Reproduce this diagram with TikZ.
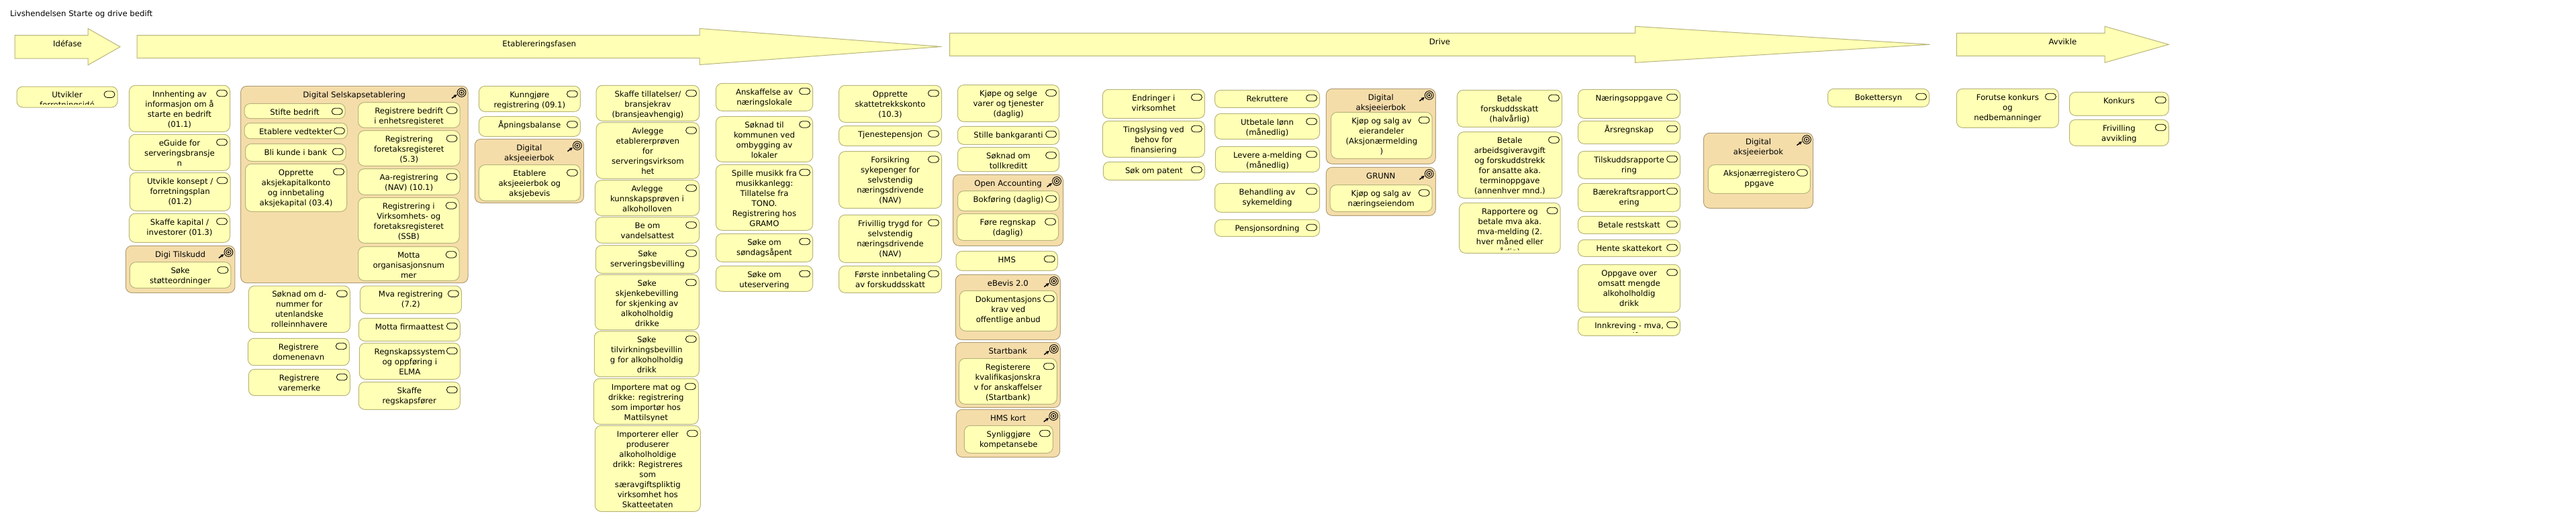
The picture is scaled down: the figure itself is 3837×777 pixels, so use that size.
\documentclass[tikz,border=0pt]{standalone}
\usepackage{fontspec}
\setmainfont{DejaVu Sans}
\usetikzlibrary{calc,shapes.misc,arrows.meta}
\definecolor{actfill}{HTML}{FFFFB5}
\definecolor{actline}{HTML}{B8B57C}
\definecolor{capfill}{HTML}{F5DDAA}
\definecolor{capline}{HTML}{B09F78}
\tikzset{
  acttext/.style={font=\fontsize{11.7}{15}\selectfont, align=center, inner sep=0pt, anchor=north, text=black},
  actnode/.style={draw=actline, fill=actfill, line width=1.00pt, rounded corners=9pt, inner sep=0pt, outer sep=0pt},
  capnode/.style={draw=capline, fill=capfill, line width=1.00pt, rounded corners=9pt, inner sep=0pt, outer sep=0pt},
  pillicon/.style={draw=black, line width=0.80pt, rounded rectangle, minimum width=16pt, minimum height=9.5pt, inner sep=0pt},
  phaseline/.style={draw=actline, fill=actfill, line width=1.00pt}
}
% #1 style, #2 name, #3 x1, #4 y1, #5 x2, #6 y2, #7 text
\newcommand{\plainbox}[7]{
  \pgfmathsetmacro{\boxw}{#5-#3}
  \pgfmathsetmacro{\boxh}{#6-#4}
  \node[#1, minimum width=\boxw pt, minimum height=\boxh pt] (#2) at ({(#3+#5)/2},{(#4+#6)/2}) {};
  \begin{scope}
    \clip (#3,#4) rectangle (#5,#6-4.6);
    \node[acttext] (#2-t) at ($(#2.north)+(0,6.2)$) {\strut #7};
  \end{scope}
}
\newcommand{\actbox}[6]{
  \plainbox{actnode}{#1}{#2}{#3}{#4}{#5}{#6}
  \node[pillicon] (#1-i) at ($(#1.north east)+(-12,11.7)$) {};
}
\newcommand{\capbox}[6]{
  \plainbox{capnode}{#1}{#2}{#3}{#4}{#5}{#6}
  \coordinate (#1-c) at ($(#1.north east)+(-9.5,9.7)$);
  \draw[black, line width=0.90pt, fill=capfill] (#1-c) circle[radius=6.4pt];
  \draw[black, line width=0.90pt] (#1-c) circle[radius=3.8pt];
  \fill[black] (#1-c) circle[radius=1.7pt];
  \draw[black, line width=1.50pt, -{Stealth[length=5pt,width=5pt]}] ($(#1-c)+(-14.5,8.5)$) -- ($(#1-c)+(-7,3)$);
}
% #1 name, #2 left x, #3 top, #4 bottom, #5 head x, #6 tip x, #7 text
\newcommand{\phasearrow}[7]{
  \draw[phaseline] (#2,#3) -- (#5,#3) -- (#5,#3-10) -- (#6,{(#3+#4)/2}) -- (#5,#4+10) -- (#5,#4) -- (#2,#4) -- cycle;
  \node[acttext] (#1) at ({(#2+#6)/2},#3+6.5) {\strut #7};
}
\begin{document}
\begin{tikzpicture}[x=1pt,y=-1pt]
\useasboundingbox (0,0) rectangle (3837,777);
\node[acttext, anchor=north west] (title) at (15,13.5) {\strut Livshendelsen Starte og drive bedift};

\phasearrow{idefase}{22}{52.5}{87}{131}{179}{Idéfase}
\phasearrow{etablering}{204}{52.5}{86.5}{1042}{1402.5}{Etablereringsfasen}
\phasearrow{drive}{1414.6}{49.3}{83.3}{2435.6}{2874.5}{Drive}
\phasearrow{avvikle}{2914.4}{49.3}{83.3}{3135}{3230.3}{Avvikle}

% idefase
\actbox{utvikler}{25}{129}{175}{160}{Utvikler\\forretningsidé}
\actbox{innhenting}{192.4}{127.3}{342.5}{196.3}{Innhenting av\\informasjon om å\\starte en bedrift\\(01.1)}
\actbox{eguide}{192.4}{200.3}{342.5}{254.3}{eGuide for\\serveringsbransje\\n}
\actbox{konsept}{193.3}{257.3}{343}{314.3}{Utvikle konsept /\\forretningsplan\\(01.2)}
\actbox{kapital}{192.4}{318.3}{342.5}{361.3}{Skaffe kapital /\\investorer (01.3)}
\capbox{digitilskudd}{187.3}{366.3}{349.9}{436.3}{Digi Tilskudd}
\actbox{stotte}{193.3}{390.7}{343.9}{429.3}{Søke\\støtteordninger}

% selskapsetablering
\capbox{selskap}{358.6}{128.3}{697}{421.7}{Digital Selskapsetablering}
\actbox{stifte}{364}{154.3}{514.2}{176.7}{Stifte bedrift}
\actbox{vedtekter}{364}{183.3}{517.4}{206.7}{Etablere vedtekter}
\actbox{bank}{365.5}{214.3}{515.2}{240.3}{Bli kunde i bank}
\actbox{aksjekonto}{365.5}{244.3}{516.5}{315.3}{Opprette\\aksjekapitalkonto\\og innbetaling\\aksjekapital (03.4)}
\actbox{enhet}{533.5}{152.7}{685}{190.3}{Registrere bedrift\\i enhetsregisteret}
\actbox{foretak}{533.5}{194.7}{685}{247.3}{Registrering\\foretaksregisteret\\(5.3)}
\actbox{aareg}{533.5}{251.7}{685}{290.3}{Aa-registrering\\(NAV) (10.1)}
\actbox{ssb}{533.5}{294.7}{684.1}{362.3}{Registrering i\\Virksomhets- og\\foretaksregisteret\\(SSB)}
\actbox{orgnr}{533.5}{367.7}{684.1}{418.3}{Motta\\organisasjonsnum\\mer}

\actbox{dnummer}{370.3}{426}{521.3}{495.3}{Søknad om d-\\nummer for\\utenlandske\\rolleinnhavere}
\actbox{domene}{369.3}{504.3}{520.3}{544.7}{Registrere\\domenenavn}
\actbox{varemerke}{370.3}{550.3}{521.3}{589.7}{Registrere\\varemerke}
\actbox{mva}{536.3}{426}{687.3}{467.3}{Mva registrering\\(7.2)}
\actbox{firmaattest}{534.3}{474.3}{685.3}{508.3}{Motta firmaattest}
\actbox{elma}{535.3}{511.3}{685.3}{565.3}{Regnskapssystem\\og oppføring i\\ELMA}
\actbox{regnskapsforer}{534.3}{569.3}{685.3}{610.3}{Skaffe\\regskapsfører}

\actbox{kunngjore}{713.3}{128.3}{864.4}{166.3}{Kunngjøre\\registrering (09.1)}
\actbox{apning}{713.3}{173.7}{864.4}{203.3}{Åpningsbalanse}
\capbox{aksjebok}{707.3}{207.3}{869.4}{302.3}{Digital\\aksjeeierbok}
\actbox{aksjebevis}{713.3}{245.7}{864.4}{299.3}{Etablere\\aksjeeierbok og\\aksjebevis}

% tillatelser
\actbox{tillatelser}{888.2}{127.3}{1041.6}{180.3}{Skaffe tillatelser/\\bransjekrav\\(bransjeavhengig)}
\actbox{etablerer}{888.2}{182.7}{1041.6}{266.3}{Avlegge\\etablererprøven\\for\\serveringsvirksom\\het}
\actbox{kunnskap}{886.4}{268.7}{1041.6}{321.3}{Avlegge\\kunnskapsprøven i\\alkoholloven}
\actbox{vandel}{887.3}{323.7}{1041.6}{362.3}{Be om\\vandelsattest}
\actbox{servering}{887.3}{365.7}{1041.6}{407.3}{Søke\\serveringsbevilling}
\actbox{skjenke}{886.3}{409.3}{1041.3}{491.7}{Søke\\skjenkebevilling\\for skjenking av\\alkoholholdig\\drikke}
\actbox{tilvirkning}{885.3}{493.7}{1041.3}{561.7}{Søke\\tilvirkningsbevillin\\g for alkoholholdig\\drikk}
\actbox{import}{884.3}{564.3}{1040.3}{632.3}{Importere mat og\\drikke: registrering\\som importør hos\\Mattilsynet}
\actbox{saeravgift}{886.3}{634.3}{1043.3}{762.3}{Importerer eller\\produserer\\alkoholholdige\\drikk: Registreres\\som\\særavgiftspliktig\\virksomhet hos\\Skatteetaten}

\actbox{lokale}{1066.4}{124.3}{1210.6}{165.3}{Anskaffelse av\\næringslokale}
\actbox{ombygging}{1066.4}{173.7}{1210.6}{241.3}{Søknad til\\kommunen ved\\ombygging av\\lokaler}
\actbox{musikk}{1066.4}{245.3}{1210.6}{343.3}{Spille musikk fra\\musikkanlegg:\\Tillatelse fra\\TONO.\\Registrering hos\\GRAMO}
\actbox{sondag}{1066.4}{348.3}{1210.6}{390.3}{Søke om\\søndagsåpent}
\actbox{ute}{1066.4}{396.3}{1210.6}{434.3}{Søke om\\uteservering}

\actbox{skattetrekk}{1249.6}{127.3}{1402.5}{182.3}{Opprette\\skattetrekkskonto\\(10.3)}
\actbox{tjeneste}{1249.6}{187.7}{1402.5}{217.3}{Tjenestepensjon}
\actbox{sykepenger}{1249.6}{225.7}{1402.5}{310.3}{Forsikring\\sykepenger for\\selvstendig\\næringsdrivende\\(NAV)}
\actbox{trygd}{1249.6}{320.3}{1402.5}{391.3}{Frivillig trygd for\\selvstendig\\næringsdrivende\\(NAV)}
\actbox{forskudd}{1249.6}{396.3}{1402.5}{436.3}{Første innbetaling\\av forskuddsskatt}

% drive
\actbox{kjope}{1426.5}{126.7}{1577.6}{181.3}{Kjøpe og selge\\varer og tjenester\\(daglig)}
\actbox{garanti}{1426.5}{188.3}{1577.6}{215.3}{Stille bankgaranti}
\actbox{toll}{1426.5}{219.7}{1577.6}{255.7}{Søknad om\\tollkreditt}
\capbox{openacc}{1419.6}{260.3}{1583.5}{366.3}{Open Accounting}
\actbox{bokforing}{1426.5}{284.7}{1577.6}{314.3}{Bokføring (daglig)}
\actbox{regnskap}{1425.6}{318.7}{1576.6}{358.3}{Føre regnskap\\(daglig)}
\actbox{hms}{1424.2}{374.3}{1575.3}{403.3}{HMS}
\capbox{ebevis}{1423.3}{409.3}{1579.3}{506.3}{eBevis 2.0}
\actbox{dokkrav}{1429.3}{433.3}{1574.3}{493.3}{Dokumentasjons\\krav ved\\offentlige anbud}
\capbox{startbank}{1423.3}{510.3}{1579.3}{607.3}{Startbank}
\actbox{kvalkrav}{1428.3}{534.3}{1574.3}{602.3}{Registerere\\kvalifikasjonskra\\v for anskaffelser\\(Startbank)}
\capbox{hmskort}{1424.3}{610.3}{1578.7}{681.3}{HMS kort}
\actbox{kompetanse}{1436.3}{634.3}{1568.3}{675.3}{Synliggjøre\\kompetansebe}

\actbox{endringer}{1642.4}{133.3}{1794.4}{176.3}{Endringer i\\virksomhet}
\actbox{tingslysing}{1642.4}{180.3}{1794.4}{234.3}{Tingslysing ved\\behov for\\finansiering}
\actbox{patent}{1643.3}{241.3}{1794.4}{268.3}{Søk om patent}
\actbox{rekruttere}{1809.5}{134.3}{1965.6}{160.3}{Rekruttere}
\actbox{lonn}{1809.5}{169.3}{1965.6}{207.3}{Utbetale lønn\\(månedlig)}
\actbox{amelding}{1810.4}{218.3}{1965.6}{256.3}{Levere a-melding\\(månedlig)}
\actbox{sykemelding}{1809.5}{273.3}{1965.6}{316.3}{Behandling av\\sykemelding}
\actbox{pensjon}{1809.5}{327.3}{1965.6}{352.3}{Pensjonsordning}

\capbox{aksjebokb}{1975.3}{132.3}{2138.3}{244.3}{Digital\\aksjeeierbok}
\actbox{eierandeler}{1982.6}{167.3}{2133.2}{236.3}{Kjøp og salg av\\eierandeler\\(Aksjonærmelding\\)}
\capbox{grunn}{1975.3}{249.3}{2138.3}{321.3}{GRUNN}
\actbox{eiendom}{1981.2}{275.7}{2133.2}{315.3}{Kjøp og salg av\\næringseiendom}

\actbox{halvar}{2170.4}{134.3}{2326.5}{189.3}{Betale\\forskuddsskatt\\(halvårlig)}
\actbox{termin}{2171.3}{196.7}{2326.5}{295.3}{Betale\\arbeidsgiveravgift\\og forskuddstrekk\\for ansatte aka.\\terminoppgave\\(annenhver mnd.)}
\actbox{mvamelding}{2173.6}{302.3}{2324.2}{377.3}{Rapportere og\\betale mva aka.\\mva-melding (2.\\hver måned eller\\årlig)}

\actbox{naering}{2350.6}{133.3}{2502.6}{176.3}{Næringsoppgave}
\actbox{arsregnskap}{2350.6}{180.3}{2502.6}{214.3}{Årsregnskap}
\actbox{tilskudd}{2350.6}{225.3}{2502.6}{266.3}{Tilskuddsrapporte\\ring}
\actbox{baerekraft}{2350.6}{273.3}{2502.6}{315.3}{Bærekraftsrapport\\ering}
\actbox{restskatt}{2350.6}{322.3}{2502.6}{348.3}{Betale restskatt}
\actbox{skattekort}{2350.6}{357.3}{2502.6}{382.3}{Hente skattekort}
\actbox{omsatt}{2350.6}{394.3}{2502.6}{465.3}{Oppgave over\\omsatt mengde\\alkoholholdig\\drikk}
\actbox{innkreving}{2350.6}{472.3}{2502.6}{500.3}{Innkreving - mva,\\avgift}

\capbox{aksjebokc}{2537.5}{198.3}{2700.5}{310.3}{Digital\\aksjeeierbok}
\actbox{aksjonaer}{2544.4}{245.7}{2696.4}{288.3}{Aksjonærregistero\\ppgave}
\actbox{bokettersyn}{2722.5}{132.3}{2873.6}{159.3}{Bokettersyn}

% avvikle
\actbox{forutse}{2914.4}{132.3}{3066.4}{190.3}{Forutse konkurs\\og\\nedbemanninger}
\actbox{konkurs}{3082.5}{137.3}{3230.3}{172.3}{Konkurs}
\actbox{frivillig}{3082.5}{178.3}{3230.3}{217.3}{Frivilling\\avvikling}
\end{tikzpicture}
\end{document}
